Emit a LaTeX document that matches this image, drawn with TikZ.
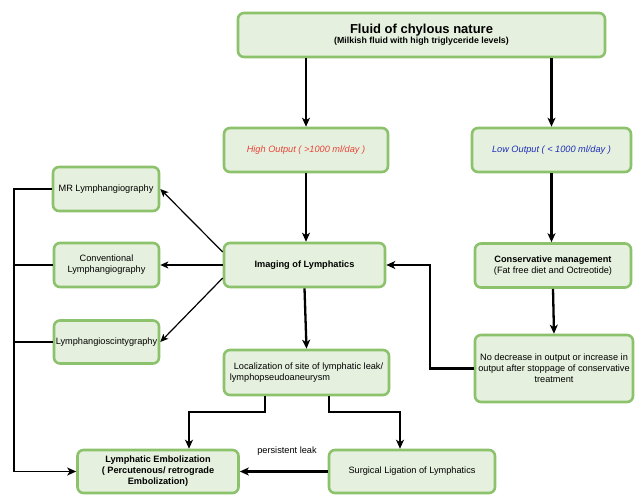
\documentclass[tikz,border=0pt]{standalone}
\usepackage{fontspec}
\setmainfont{Liberation Sans}
\usetikzlibrary{arrows.meta}
\definecolor{boxfill}{HTML}{E5F1DE}
\definecolor{boxline}{HTML}{8BC26B}
\definecolor{hired}{HTML}{E8443A}
\definecolor{loblue}{HTML}{1F2DB8}
\tikzset{
  box/.style={draw=boxline, fill=boxfill, line width=2.6pt, rounded corners=6pt,
    align=center, inner sep=1pt, font=\fontsize{9.2}{11}\selectfont},
  arr/.style={line width=2.3pt, -{Stealth[length=9pt,width=8pt,inset=2.5pt]}},
  tarr/.style={line width=1.2pt, -{Stealth[length=8pt,width=7pt,inset=2pt]}},
  bus/.style={line width=1.8pt},
}
\begin{document}
\begin{tikzpicture}[x=1pt,y=-1pt]
\useasboundingbox (0,0) rectangle (636,497);
% nodes
\node[box, minimum width=367pt, minimum height=44pt] (top) at (421.5,35)
  {{\fontsize{13}{15}\selectfont\bfseries Fluid of chylous nature}\\[-1pt]
   {\fontsize{8.8}{10}\selectfont\bfseries (Milkish fluid with high triglyceride levels)}};
\node[box, minimum width=164pt, minimum height=44pt, text=hired, font=\fontsize{9.2}{11}\selectfont\itshape] (high) at (306,150) {High Output ( >1000 ml/day )};
\node[box, minimum width=159pt, minimum height=44pt, text=loblue, font=\fontsize{9.2}{11}\selectfont\itshape] (low) at (551.5,150) {Low Output ( < 1000 ml/day )};
\node[box, minimum width=106pt, minimum height=44pt] (mr) at (106,189) {MR Lymphangiography};
\node[box, minimum width=105pt, minimum height=44pt] (conv) at (106.5,265) {Conventional\\Lymphangiography};
\node[box, minimum width=105pt, minimum height=43pt, inner sep=0pt] (lsc) at (106.5,342) {Lymphangioscintygraphy};
\node[box, minimum width=161pt, minimum height=44pt, font=\fontsize{9.2}{11}\selectfont\bfseries] (img) at (304.5,265) {Imaging of Lymphatics};
\node[box, minimum width=156pt, minimum height=44pt] (cons) at (553,265.5) {\textbf{Conservative management}\\(Fat free diet and Octreotide)};
\node[box, minimum width=158pt, minimum height=67pt, inner sep=0pt] (nod) at (554,368.5) {No decrease in output or increase in\\output after stoppage of conservative\\treatment};
\node[box, minimum width=165pt, minimum height=45pt, align=left] (loc) at (306.5,372.5) {\hspace*{4pt}Localization of site of lymphatic leak/\\lymphopseudoaneurysm};
\node[box, minimum width=161pt, minimum height=43pt, font=\fontsize{9.2}{11}\selectfont\bfseries] (emb) at (158,471.5) {Lymphatic Embolization\\( Percutenous/ retrograde\\Embolization)};
\node[box, minimum width=166pt, minimum height=43pt] (surg) at (412,471.5) {Surgical Ligation of Lymphatics};
\node[font=\fontsize{9.2}{11}\selectfont] (pl) at (287,451) {persistent leak};
% connectors
\draw[arr] (high.north |- top.south) -- (high.north);
\draw[arr] (low.north |- top.south) -- (low.north);
\draw[arr] (high.south) -- (high.south |- img.north);
\draw[arr] (low.south) -- (low.south |- cons.north);
\draw[arr] (cons.south) -- (nod.north);
\draw[arr] (nod.west) -- ++(-44,0) |- (img.east);
\draw[tarr] ([yshift=13pt]img.west) -- (mr.east);
\draw[tarr] (img.west) -- (conv.east);
\draw[tarr] ([yshift=-13pt]img.west) -- (lsc.east);
\draw[arr] (img.south) -- (loc.north);
\draw[arr] ([xshift=-41.5pt]loc.south) -- ++(0,16) -| ([xshift=31pt]emb.north);
\draw[arr] ([xshift=22.5pt]loc.south) -- ++(0,16) -| ([xshift=-12pt]surg.north);
\draw[arr] (surg.west) -- (emb.east);
\coordinate (bx) at (14,0);
\draw[bus] (conv.west) -- (conv.west -| bx);
\draw[bus] (lsc.west) -- (lsc.west -| bx);
\draw[bus, -{Stealth[length=9pt,width=8pt,inset=2.5pt]}] (mr.west) -- (mr.west -| bx) |- (emb.west);
\end{tikzpicture}
\end{document}
